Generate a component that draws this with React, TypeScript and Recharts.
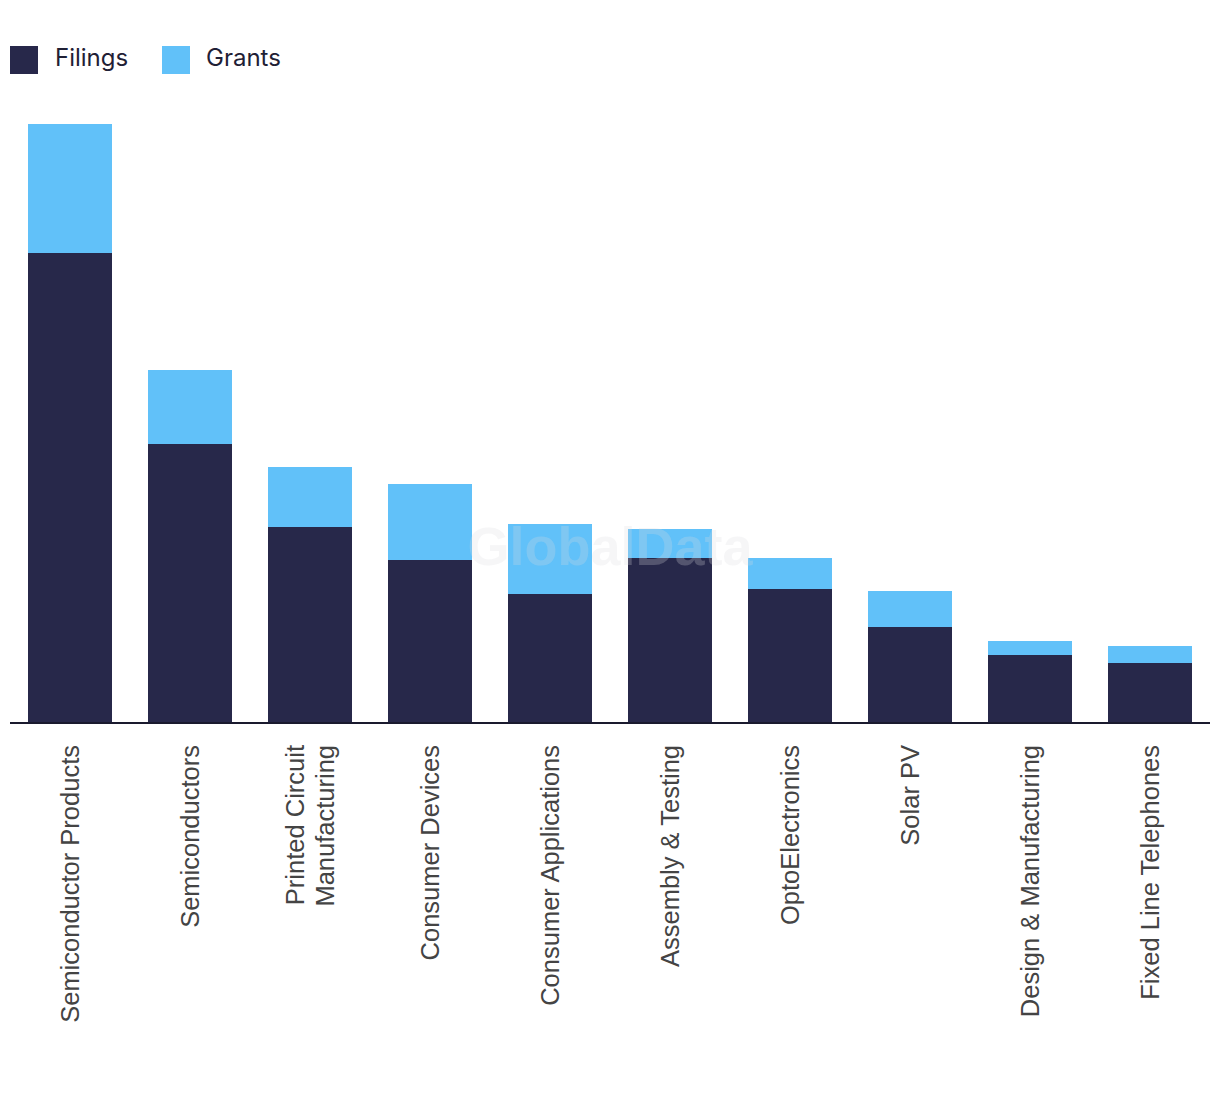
import { BarChart, Bar, XAxis, YAxis } from 'recharts';

const categories = [
  'Semiconductor Products',
  'Semiconductors',
  'Printed Circuit\nManufacturing',
  'Consumer Devices',
  'Consumer Applications',
  'Assembly & Testing',
  'OptoElectronics',
  'Solar PV',
  'Design & Manufacturing',
  'Fixed Line Telephones',
];

const filings = [470, 279, 196, 163, 129, 165, 134, 96, 68, 60];
const grants = [129, 74, 60, 76, 70, 29, 31, 36, 14, 17];

const data = categories.map((name, i) => ({
  name,
  filings: filings[i],
  grants: grants[i],
}));

const NAVY = '#27284a';
const BLUE = '#61c1f9';

const CategoryTick = (props: any) => {
  const { x, y, payload } = props;
  const lines = String(payload.value).split('\n');
  const lh = 30;
  return (
    <g transform={`translate(${x},${y + 22})`}>
      {lines.map((line, i) => (
        <text
          key={i}
          transform="rotate(-90)"
          x={0}
          y={(i - (lines.length - 1) / 2) * lh + 9}
          textAnchor="end"
          fill="#444"
          fontSize={25.5}
          fontFamily="'Liberation Sans', Arial, sans-serif"
        >
          {line}
        </text>
      ))}
    </g>
  );
};

const legendItems = [
  { label: 'Filings', color: NAVY, left: 10, textLeft: 55 },
  { label: 'Grants', color: BLUE, left: 162, textLeft: 206 },
];

export default function App() {
  return (
    <div style={{ position: 'absolute', left: 0, top: 0, width: 1220, height: 1094, background: '#fff' }}>
      {legendItems.map((it) => (
        <div key={it.label}>
          <div
            style={{
              position: 'absolute',
              left: it.left,
              top: 46,
              width: 28,
              height: 28,
              background: it.color,
            }}
          />
          <div
            style={{
              position: 'absolute',
              left: it.textLeft,
              top: 40,
              height: 36,
              lineHeight: '36px',
              fontSize: 24,
              fontFamily: 'Inter, sans-serif',
              color: '#1f2035',
            }}
          >
            {it.label}
          </div>
        </div>
      ))}
      <BarChart
        width={1220}
        height={1094}
        data={data}
        margin={{ top: 123, right: 10, left: 10, bottom: 71 }}
        barCategoryGap={18}
      >
        <XAxis
          dataKey="name"
          interval={0}
          height={300}
          tickLine={false}
          tickSize={0}
          tickMargin={0}
          axisLine={{ stroke: '#1a1a2e', strokeWidth: 2 }}
          tick={<CategoryTick />}
        />
        <YAxis hide domain={[0, 600]} />
        <Bar dataKey="filings" stackId="a" fill={NAVY} isAnimationActive={false} />
        <Bar dataKey="grants" stackId="a" fill={BLUE} isAnimationActive={false} />
      </BarChart>
      <div
        style={{
          position: 'absolute',
          left: 0,
          width: 1220,
          top: 515,
          textAlign: 'center',
          fontSize: 54,
          fontWeight: 700,
          fontFamily: "'Liberation Sans', Arial, sans-serif",
          color: 'rgba(220,220,225,0.25)',
          pointerEvents: 'none',
        }}
      >
        GlobalData
      </div>
    </div>
  );
}
